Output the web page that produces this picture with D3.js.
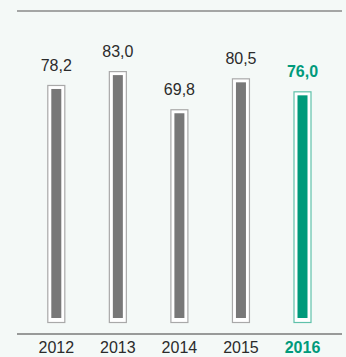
<!DOCTYPE html>
<html>
<head>
<meta charset="utf-8">
<script src="https://cdn.jsdelivr.net/npm/d3@7/dist/d3.min.js"></script>
<style>
  html, body { margin: 0; padding: 0; background: #f4f9f7; }
  svg { display: block; }
  text { font-family: "Liberation Sans Narrow", "Arial Narrow", "Liberation Sans", sans-serif; }
</style>
</head>
<body>
<svg id="chart" width="346" height="357"></svg>
<script>
// Annual values, 2012–2016 (German decimal notation in labels)
const years = ["2012", "2013", "2014", "2015", "2016"];
const values = [78.2, 83.0, 69.8, 80.5, 76.0];
const valueLabels = ["78,2", "83,0", "69,8", "80,5", "76,0"];
const highlightYear = "2016";

const data = years.map((y, i) => ({ year: y, value: values[i], label: valueLabels[i] }));

const svg = d3.select("#chart");

const grey = "#787878";
const greyFrame = "#a9a9a9";
const green = "#009a7b";
const greenFrame = "#5fc1aa";
const textColor = "#2b2b2b";

const x = d3.scalePoint().domain(years).range([56.3, 302.5]);
const y = d3.scaleLinear().domain([0, 83]).range([315, 75.1]);
const base = 318;          // bottom of the inner bars
const innerW = 10;
const pad = 4;

// top rule and baseline rule
svg.append("line").attr("x1", 17).attr("x2", 342).attr("y1", 11).attr("y2", 11)
  .attr("stroke", "#8a8a8a").attr("stroke-width", 1.3);
svg.append("line").attr("x1", 17).attr("x2", 342).attr("y1", 334).attr("y2", 334)
  .attr("stroke", "#7a7a7a").attr("stroke-width", 1.3);

const g = svg.append("g").selectAll("g").data(data).join("g");

// outer frame
g.append("rect")
  .attr("x", d => x(d.year) - innerW / 2 - pad + 0.5)
  .attr("y", d => y(d.value) - pad + 0.5)
  .attr("width", innerW + 2 * pad - 1)
  .attr("height", d => base - y(d.value) + 2 * pad)
  .attr("fill", "#ffffff")
  .attr("stroke", d => d.year === highlightYear ? greenFrame : greyFrame)
  .attr("stroke-width", 1.2);

// inner bar
g.append("rect")
  .attr("x", d => x(d.year) - innerW / 2)
  .attr("y", d => y(d.value))
  .attr("width", innerW)
  .attr("height", d => base - y(d.value))
  .attr("fill", d => d.year === highlightYear ? green : grey);

// value labels
g.append("text")
  .attr("x", d => x(d.year))
  .attr("y", d => y(d.value) - 18)
  .attr("text-anchor", "middle")
  .attr("font-size", 16)
  .attr("font-weight", d => d.year === highlightYear ? "bold" : "normal")
  .attr("fill", d => d.year === highlightYear ? green : textColor)
  .text(d => d.label);

// year labels
g.append("text")
  .attr("x", d => x(d.year))
  .attr("y", 353)
  .attr("text-anchor", "middle")
  .attr("font-size", 16)
  .attr("font-weight", d => d.year === highlightYear ? "bold" : "normal")
  .attr("fill", d => d.year === highlightYear ? green : textColor)
  .text(d => d.year);
</script>
</body>
</html>
